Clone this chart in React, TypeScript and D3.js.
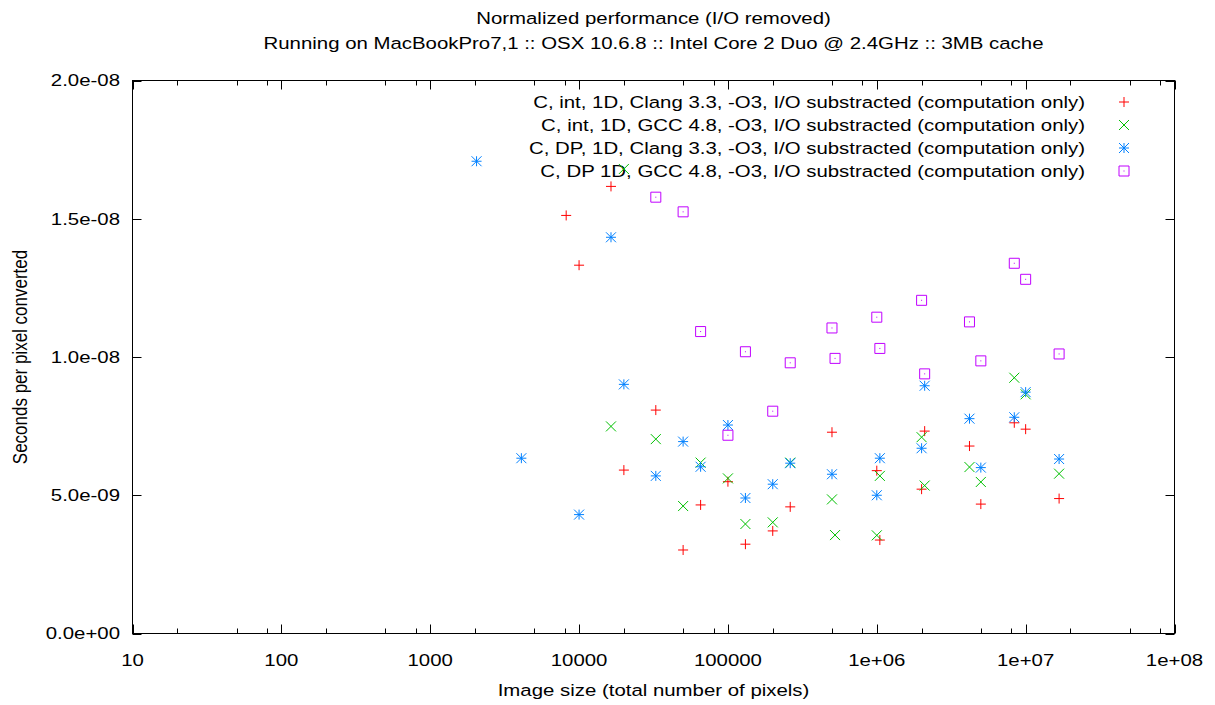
import React, { useEffect, useRef } from "react";
import * as d3 from "d3";

const titleLines = [
  "Normalized performance (I/O removed)",
  "Running on MacBookPro7,1 :: OSX 10.6.8 :: Intel Core 2 Duo @ 2.4GHz :: 3MB cache",
];

const xTickValues = [10, 100, 1000, 10000, 100000, 1e6, 1e7, 1e8];
const xTickLabels = ["10", "100", "1000", "10000", "100000", "1e+06", "1e+07", "1e+08"];
const yTickValues = [0, 5e-9, 1e-8, 1.5e-8, 2e-8];
const yTickLabels = ["0.0e+00", "5.0e-09", "1.0e-08", "1.5e-08", "2.0e-08"];

// C, int, 1D, Clang 3.3
const clangIntSizes = [8192, 10000, 16384, 20000, 32768, 50000, 65536, 100000, 131072, 200000, 262144, 500000, 1e6, 1048576, 2e6, 2097152, 4194304, 5e6, 8388608, 1e7, 16777216];
const clangIntTimes = [15.12, 13.32, 16.17, 5.91, 8.08, 3.02, 4.65, 5.49, 3.23, 3.71, 4.58, 7.28, 5.89, 3.38, 5.22, 7.32, 6.78, 4.68, 7.62, 7.39, 4.88];

// C, int, 1D, GCC 4.8
const gccIntSizes = [16384, 20000, 32768, 50000, 65536, 100000, 131072, 200000, 262144, 500000, 524288, 1e6, 1048576, 2e6, 2097152, 4194304, 5e6, 8388608, 1e7, 16777216];
const gccIntTimes = [7.49, 16.8, 7.03, 4.61, 6.18, 5.61, 3.96, 4.02, 6.18, 4.85, 3.56, 3.55, 5.7, 7.1, 5.35, 6.02, 5.48, 9.25, 8.65, 5.78];

// C, DP, 1D, Clang 3.3
const clangDpSizes = [2048, 4096, 10000, 16384, 20000, 32768, 50000, 65536, 100000, 131072, 200000, 262144, 500000, 1e6, 1048576, 2e6, 2097152, 4194304, 5e6, 8388608, 1e7, 16777216];
const clangDpTimes = [17.08, 6.34, 4.3, 14.33, 9.01, 5.7, 6.94, 6.03, 7.54, 4.9, 5.4, 6.16, 5.76, 5.0, 6.34, 6.7, 8.96, 7.77, 6.0, 7.82, 8.73, 6.31];

// C, DP 1D, GCC 4.8
const gccDpSizes = [32768, 50000, 65536, 100000, 131072, 200000, 262144, 500000, 524288, 1e6, 1048576, 2e6, 2097152, 4194304, 5e6, 8388608, 1e7, 16777216];
const gccDpTimes = [15.78, 15.25, 10.92, 7.17, 10.19, 8.04, 9.79, 11.05, 9.95, 11.44, 10.31, 12.05, 9.39, 11.27, 9.86, 13.39, 12.81, 10.11];

const seriesLabels = [
  "C, int, 1D, Clang 3.3, -O3, I/O substracted (computation only)",
  "C, int, 1D, GCC 4.8, -O3, I/O substracted (computation only)",
  "C, DP, 1D, Clang 3.3, -O3, I/O substracted (computation only)",
  "C, DP 1D, GCC 4.8, -O3, I/O substracted (computation only)",
];
const seriesColors = ["#ff0000", "#00c000", "#0080ff", "#c000ff"];
const seriesShapes = ["plus", "cross", "star", "box"];

const W = 1215;
const H = 705;
const FONT = "'Liberation Sans', Arial, sans-serif";
const STRETCH = 1.2; // the reference glyphs are wider than they are tall

const markerPath = (shape: string, s: number) => {
  const plus = `M${-s},0H${s}M0,${-s}V${s}`;
  const cross = `M${-s},${-s}L${s},${s}M${-s},${s}L${s},${-s}`;
  if (shape === "plus") return plus;
  if (shape === "cross") return cross;
  if (shape === "star") return plus + cross;
  return `M${-s},${-s}H${s}V${s}H${-s}Z`;
};

const App = () => {
  const svgRef = useRef<SVGSVGElement>(null);

  useEffect(() => {
    const svg = d3.select(svgRef.current);
    svg.selectAll("*").remove();

    const left = 132.5, right = 1174.5, top = 80.5, bottom = 633.5;
    const x = d3.scaleLog().domain([10, 1e8]).range([left, right]);
    const y = d3.scaleLinear().domain([0, 2e-8]).range([bottom, top]);

    svg.append("rect").attr("width", W).attr("height", H).attr("fill", "white");

    // horizontal stretch is applied in screen space, so rotated text gets it across its height
    const label = (tx: number, ty: number, anchor: string, text: string, rotated = false) =>
      svg.append("text")
        .attr("transform", rotated
          ? `translate(${tx},${ty}) scale(${STRETCH},1) rotate(-90)`
          : `translate(${tx},${ty}) scale(${STRETCH},1)`)
        .attr("text-anchor", anchor)
        .attr("dominant-baseline", "central")
        .style("font-family", FONT)
        .style("font-size", "17px")
        .text(text);

    // titles
    titleLines.forEach((t, i) => label((left + right) / 2, 18 + i * 25, "middle", t));

    // x ticks: majors at decades, minors at 2,5,8
    const minor: number[] = [];
    for (let d = 10; d < 1e8; d *= 10) [2, 5, 8].forEach(m => minor.push(d * m));
    const ticks = svg.append("g").attr("stroke", "black").attr("stroke-width", 1);
    xTickValues.forEach(v => {
      const px = Math.round(x(v)) + 0.5;
      ticks.append("line").attr("x1", px).attr("x2", px).attr("y1", bottom).attr("y2", bottom - 9);
      ticks.append("line").attr("x1", px).attr("x2", px).attr("y1", top).attr("y2", top + 9);
    });
    minor.forEach(v => {
      const px = Math.round(x(v)) + 0.5;
      ticks.append("line").attr("x1", px).attr("x2", px).attr("y1", bottom).attr("y2", bottom - 5);
      ticks.append("line").attr("x1", px).attr("x2", px).attr("y1", top).attr("y2", top + 5);
    });
    yTickValues.forEach(v => {
      const py = Math.round(y(v)) + 0.5;
      ticks.append("line").attr("x1", left).attr("x2", left + 9).attr("y1", py).attr("y2", py);
      ticks.append("line").attr("x1", right).attr("x2", right - 9).attr("y1", py).attr("y2", py);
    });

    // tick labels
    xTickValues.forEach((v, i) => label(x(v), 660, "middle", xTickLabels[i]));
    yTickValues.forEach((v, i) => label(120, y(v), "end", yTickLabels[i]));

    // axis titles
    label((left + right) / 2, 690, "middle", "Image size (total number of pixels)");
    label(20, (top + bottom) / 2, "middle", "Seconds per pixel converted", true);

    // frame
    svg.append("rect")
      .attr("x", left).attr("y", top)
      .attr("width", right - left).attr("height", bottom - top)
      .attr("fill", "none").attr("stroke", "black").attr("stroke-width", 1);

    // legend
    seriesLabels.forEach((text, i) => {
      const ly = 102 + i * 23;
      label(1085, ly, "end", text);
      svg.append("path")
        .attr("transform", `translate(1124,${ly})`)
        .attr("d", markerPath(seriesShapes[i], 5))
        .attr("fill", "none")
        .attr("stroke", seriesColors[i])
        .attr("stroke-width", 1);
      if (seriesShapes[i] === "box") {
        svg.append("rect").attr("x", 1123.5).attr("y", ly - 0.5).attr("width", 1).attr("height", 1).attr("fill", seriesColors[i]);
      }
    });

    // points
    const series = [
      { xs: clangIntSizes, ys: clangIntTimes },
      { xs: gccIntSizes, ys: gccIntTimes },
      { xs: clangDpSizes, ys: clangDpTimes },
      { xs: gccDpSizes, ys: gccDpTimes },
    ];
    series.forEach((s, i) => {
      const pts = s.xs.map((v, j) => [x(v), y(s.ys[j] * 1e-9)]);
      const g = svg.append("g");
      g.selectAll("path")
        .data(pts)
        .enter()
        .append("path")
        .attr("transform", d => `translate(${d[0]},${d[1]})`)
        .attr("d", markerPath(seriesShapes[i], 5))
        .attr("fill", "none")
        .attr("stroke", seriesColors[i])
        .attr("stroke-width", 1);
      if (seriesShapes[i] === "box") {
        g.selectAll("rect.dot")
          .data(pts)
          .enter()
          .append("rect")
          .attr("class", "dot")
          .attr("x", d => d[0] - 0.5)
          .attr("y", d => d[1] - 0.5)
          .attr("width", 1)
          .attr("height", 1)
          .attr("fill", seriesColors[i]);
      }
    });
  }, []);

  return (
    <svg
      ref={svgRef}
      width={W}
      height={H}
      style={{ position: "absolute", left: 0, top: 0, display: "block" }}
    />
  );
};

export default App;
